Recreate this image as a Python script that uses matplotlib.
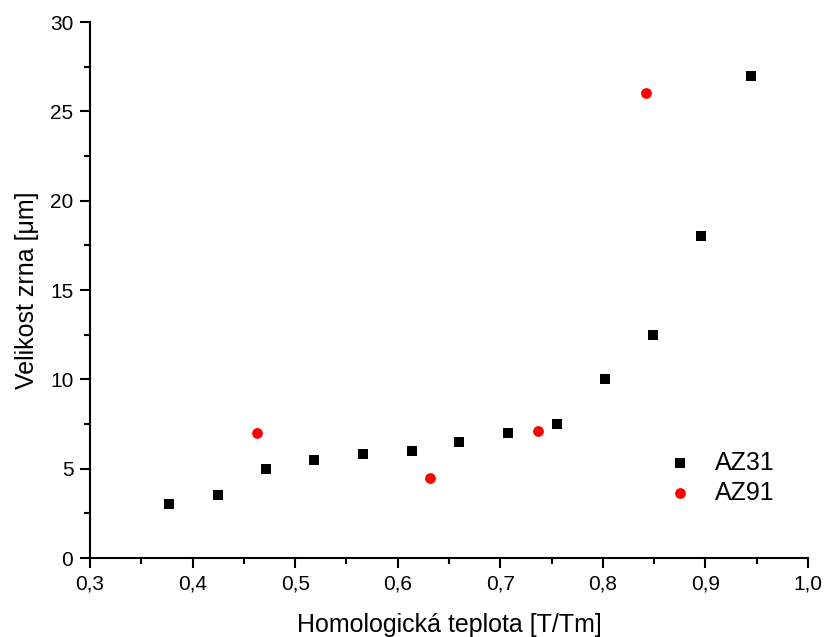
import matplotlib
matplotlib.use("Agg")
import matplotlib.pyplot as plt
from matplotlib.ticker import MultipleLocator, FuncFormatter

plt.rcParams['font.family'] = ['Liberation Sans', 'DejaVu Sans']

# AZ31
az31_x = [0.377, 0.425, 0.472, 0.518, 0.566, 0.614, 0.660, 0.708, 0.755, 0.802, 0.849, 0.896, 0.944]
az31_y = [3.0, 3.5, 5.0, 5.5, 5.8, 6.0, 6.5, 7.0, 7.5, 10.0, 12.5, 18.0, 27.0]
# AZ91
az91_x = [0.463, 0.631, 0.737, 0.842]
az91_y = [7.0, 4.5, 7.1, 26.0]

fig = plt.figure(figsize=(8.26, 6.37), dpi=100)
ax = fig.add_axes([90 / 826, 1 - 558 / 637, (808 - 90) / 826, (558 - 22) / 637])

ax.scatter(az31_x, az31_y, marker='s', s=50, color='black', linewidths=0, label='AZ31')
ax.scatter(az91_x, az91_y, marker='o', s=60, color='#ff0000', linewidths=0, label='AZ91')

ax.set_xlim(0.3, 1.0)
ax.set_ylim(0, 30)
ax.spines['top'].set_visible(False)
ax.spines['right'].set_visible(False)
for s in ['left', 'bottom']:
    ax.spines[s].set_linewidth(1.5)

ax.xaxis.set_major_locator(MultipleLocator(0.1))
ax.xaxis.set_minor_locator(MultipleLocator(0.05))
ax.yaxis.set_major_locator(MultipleLocator(5))
ax.yaxis.set_minor_locator(MultipleLocator(2.5))
ax.xaxis.set_major_formatter(FuncFormatter(lambda v, p: f"{v:.1f}".replace('.', ',')))
ax.tick_params(which='major', direction='out', length=7, width=1.5, labelsize=15, pad=5)
ax.tick_params(which='minor', direction='out', length=4, width=1.5)

ax.set_xlabel('Homologická teplota [T/Tm]', fontsize=18, labelpad=14)
ax.set_ylabel('Velikost zrna [μm]', fontsize=18, labelpad=8)

ax.legend(loc='lower right', bbox_to_anchor=(0.985, 0.057), frameon=False, fontsize=18,
          handlelength=1.2, handletextpad=0.8, labelspacing=0.25)

fig.savefig('out.png', dpi=100)
